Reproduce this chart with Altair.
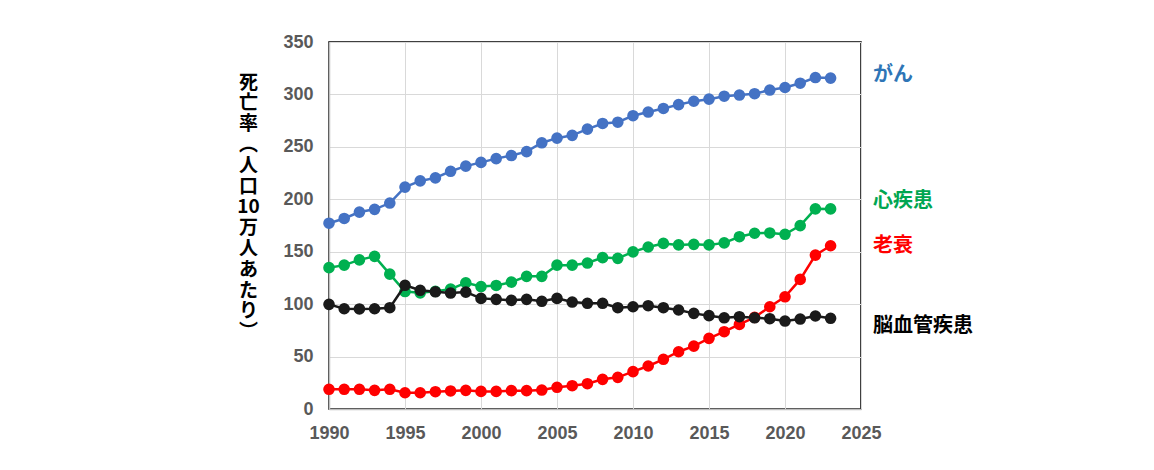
import altair as alt
import pandas as pd

years = list(range(1990, 2024))
cancer = [177.2, 181.7, 187.8, 190.4, 196.4, 211.6, 217.5, 220.4, 226.7, 231.6,
          235.2, 238.8, 241.7, 245.4, 253.9, 258.3, 261.0, 266.9, 272.3, 273.5,
          279.7, 283.2, 286.6, 290.3, 293.5, 295.5, 298.3, 299.4, 300.7, 304.2,
          306.6, 310.7, 316.1, 315.6]
heart = [134.8, 137.2, 142.2, 145.6, 128.6, 112.0, 110.8, 112.2, 114.3, 120.4,
         116.8, 117.8, 121.0, 126.5, 126.5, 137.2, 137.2, 139.2, 144.4, 143.7,
         149.8, 154.5, 157.9, 156.5, 157.0, 156.5, 158.4, 164.3, 167.6, 167.9,
         166.6, 174.9, 190.9, 190.8]
senility = [18.8, 18.8, 18.8, 17.8, 18.8, 15.5, 15.5, 16.5, 17.2, 17.8,
            16.8, 16.8, 17.5, 17.5, 18.1, 20.7, 22.2, 24.1, 28.3, 30.2,
            35.6, 41.0, 47.4, 54.6, 60.0, 67.4, 73.7, 80.7, 87.4, 97.5,
            107.0, 123.6, 146.8, 155.7]
stroke = [99.8, 95.6, 95.4, 95.6, 96.6, 118.0, 113.2, 111.8, 110.6, 111.5,
          105.5, 104.6, 103.6, 104.6, 102.7, 105.5, 102.0, 100.8, 100.8, 96.6,
          97.5, 98.5, 96.6, 94.4, 91.2, 89.0, 87.0, 88.0, 87.0, 86.1,
          83.9, 85.8, 88.7, 86.5]

series_names = ["がん", "心疾患", "老衰", "脳血管疾患"]
series_values = [cancer, heart, senility, stroke]
line_colors = ["#4472C4", "#00B050", "#FF0000", "#1A1A1A"]
label_colors = ["#2E75B6", "#00A651", "#FF0000", "#000000"]
label_year = [2025, 2025, 2025, 2025]
label_value = [319, 198, 155, 79]

x_ticks = [1990, 1995, 2000, 2005, 2010, 2015, 2020, 2025]
y_ticks = [0, 50, 100, 150, 200, 250, 300, 350]
y_title = ["死", "亡", "率", "︵", "人", "口", "10", "万", "人", "あ", "た", "り", "︶"]

x_scale = alt.Scale(domain=[1990, 2025], nice=False)
y_scale = alt.Scale(domain=[0, 350], nice=False)

x_axis = alt.Axis(values=x_ticks, format="d", title=None, grid=True, ticks=False,
                  labelFlush=False, labelPadding=15,
                  domainColor="#BFBFBF", domainWidth=1.5)
y_axis = alt.Axis(values=y_ticks, title=y_title, grid=True, ticks=False,
                  labelFlush=False, labelPadding=16,
                  domainColor="#BFBFBF", domainWidth=1.5,
                  titleAngle=0, titleAlign="center", titleBaseline="top",
                  titleX=-81, titleY=31, titleLineHeight=20.8,
                  titleFont="Noto Sans CJK JP", titleFontSize=19,
                  titleFontWeight="bold", titleColor="#000000")

layers = []
for i, name in enumerate(series_names):
    df = pd.DataFrame({"year": years, "value": series_values[i]})
    base = alt.Chart(df).encode(
        x=alt.X("year:Q", scale=x_scale, axis=x_axis),
        y=alt.Y("value:Q", scale=y_scale, axis=y_axis),
    )
    layers.append(base.mark_line(color=line_colors[i], strokeWidth=2.5))
    layers.append(base.mark_point(color=line_colors[i], filled=True, opacity=1, size=135))

labels_df = pd.DataFrame({"name": series_names, "year": label_year,
                          "value": label_value, "color": label_colors})
labels = alt.Chart(labels_df).mark_text(
    align="left", baseline="middle", dx=12, font="Noto Sans CJK JP",
    fontSize=20, fontWeight="bold", clip=False
).encode(
    x=alt.X("year:Q", scale=x_scale),
    y=alt.Y("value:Q", scale=y_scale),
    text="name:N",
    color=alt.Color("color:N", scale=None),
)
layers.append(labels)

chart = alt.layer(*layers).properties(
    width=532, height=367,
    autosize=alt.AutoSizeParams(type="none"),
    padding={"left": 321, "top": 34, "right": 280, "bottom": 50},
).configure_view(
    stroke="#000000", strokeWidth=1.5
).configure_axis(
    gridColor="#D9D9D9", gridWidth=1,
    labelFont="Liberation Sans", labelFontSize=18, labelFontWeight="bold",
    labelColor="#595959",
)

chart.save("out.html", embed_options={"renderer": "svg", "actions": False})
